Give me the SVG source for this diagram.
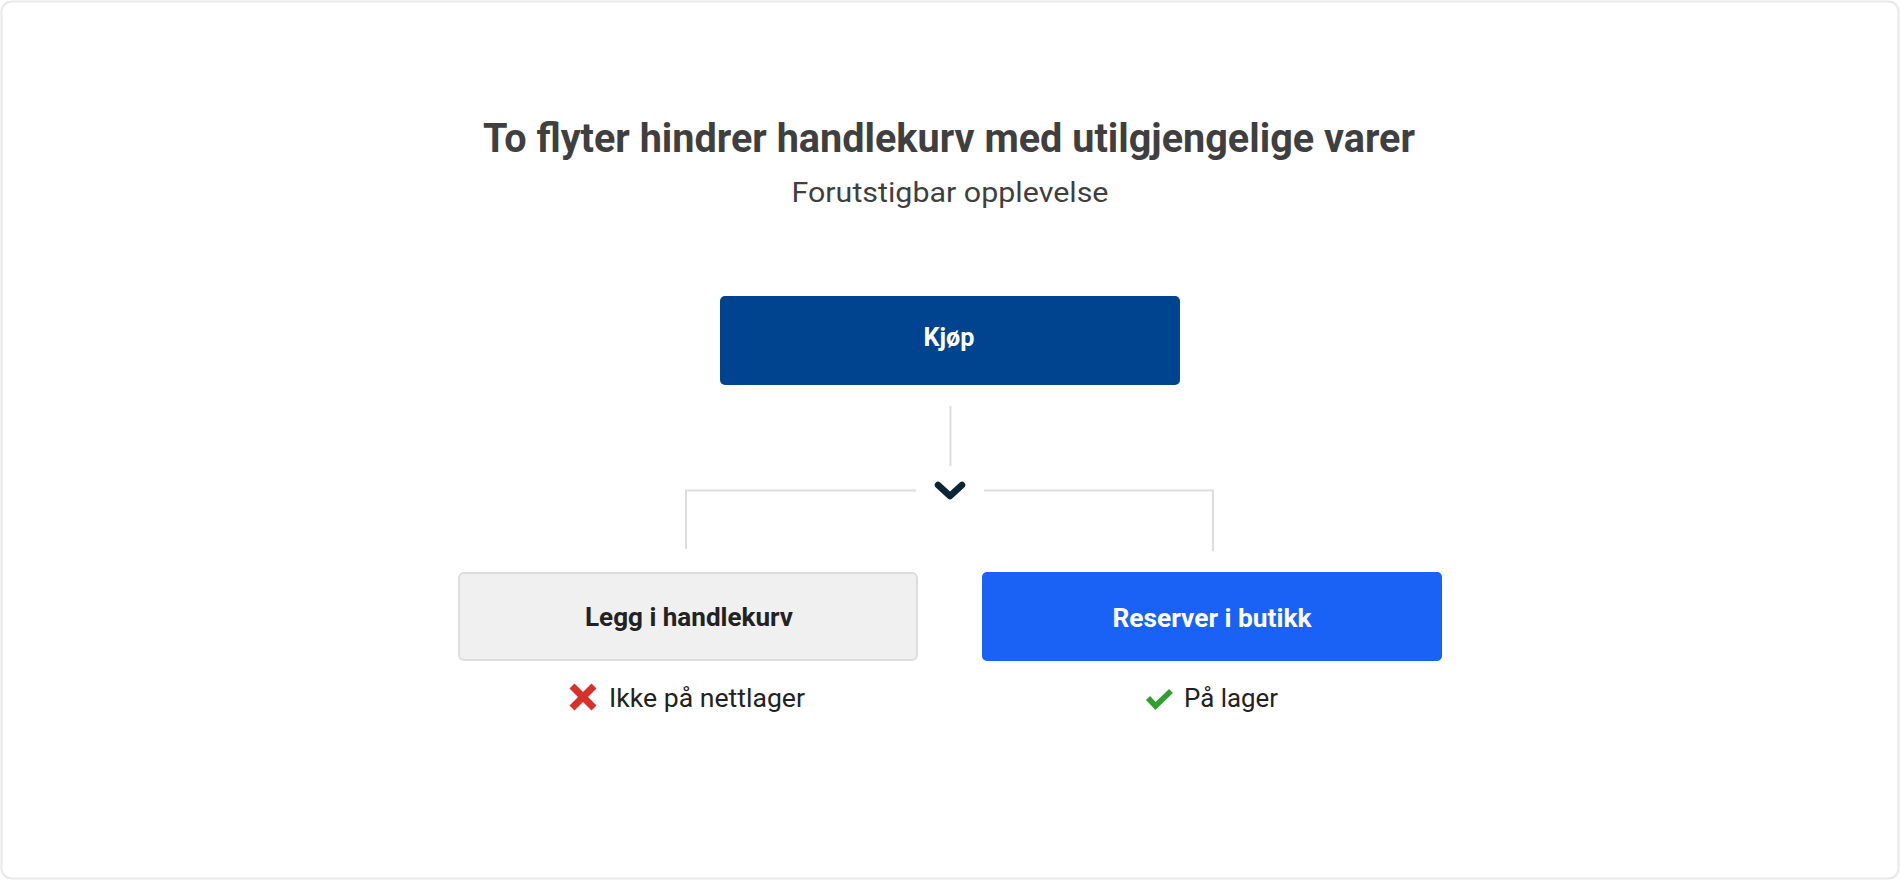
<svg xmlns="http://www.w3.org/2000/svg" width="1900" height="880" viewBox="0 0 1900 880">
  <style>
    text { font-family: Roboto, "Liberation Sans", sans-serif; text-anchor: middle; }
    .title { font-size: 41px; font-weight: 700; fill: #3f3f3f; }
    .sub { font-size: 28px; fill: #3f3f3f; }
    .lbl { font-size: 25px; font-weight: 700; }
    .note { font-size: 26px; fill: #222222; text-anchor: start; }
    .conn { stroke: #dddddd; stroke-width: 2; fill: none; }
  </style>
  <rect x="1.5" y="1.5" width="1897" height="877" rx="10" fill="#ffffff" stroke="#e8e8e8" stroke-width="2"/>
  <text class="title" x="949" y="152" textLength="932" lengthAdjust="spacingAndGlyphs">To flyter hindrer handlekurv med utilgjengelige varer</text>
  <text class="sub" x="950" y="202" textLength="317" lengthAdjust="spacingAndGlyphs">Forutstigbar opplevelse</text>

  <g id="connectors">
    <line class="conn" x1="950.5" y1="406" x2="950.5" y2="466"/>
    <polyline class="conn" points="916,490.5 686,490.5 686,549"/>
    <polyline class="conn" points="984,490.5 1213,490.5 1213,551"/>
    <polyline points="938,485 950,496 962,485" fill="none" stroke="#0c2536" stroke-width="6.5" stroke-linecap="round" stroke-linejoin="round"/>
  </g>

  <g id="kjop">
    <rect x="720" y="296" width="460" height="89" rx="5" fill="#004490"/>
    <text class="lbl" x="949" y="346" fill="#ffffff" textLength="51" lengthAdjust="spacingAndGlyphs">Kjøp</text>
  </g>

  <g id="legg">
    <rect x="459" y="573" width="458" height="87" rx="5" fill="#f0f0f0" stroke="#dddddd" stroke-width="2"/>
    <text class="lbl" x="689" y="626" fill="#222222" textLength="208" lengthAdjust="spacingAndGlyphs">Legg i handlekurv</text>
  </g>

  <g id="reserver">
    <rect x="982" y="572" width="460" height="89" rx="5" fill="#1a62f5"/>
    <text class="lbl" x="1212" y="627" fill="#ffffff" textLength="199" lengthAdjust="spacingAndGlyphs">Reserver i butikk</text>
  </g>

  <g id="ikke">
    <g stroke="#d9302a" stroke-width="7" stroke-linecap="butt">
      <line x1="572" y1="686" x2="594" y2="708"/>
      <line x1="594" y1="686" x2="572" y2="708"/>
    </g>
    <text class="note" x="609" y="707" textLength="196" lengthAdjust="spacingAndGlyphs">Ikke på nettlager</text>
  </g>

  <g id="palager">
    <polyline points="1148,698 1155.5,706 1171,691" fill="none" stroke="#2ea02e" stroke-width="5.5" stroke-linecap="butt" stroke-linejoin="miter"/>
    <text class="note" x="1184" y="707" textLength="94" lengthAdjust="spacingAndGlyphs">På lager</text>
  </g>
</svg>
